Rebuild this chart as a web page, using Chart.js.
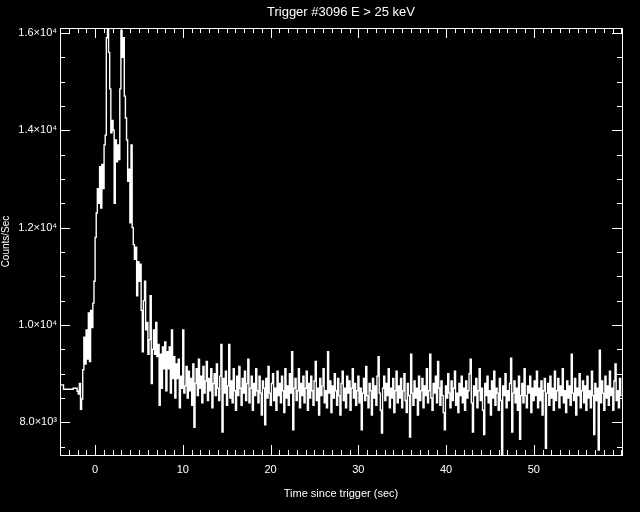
<!DOCTYPE html>
<html>
<head>
<meta charset="utf-8">
<title>Trigger #3096</title>
<script src="https://cdn.jsdelivr.net/npm/chart.js@4"></script>
<style>
  html, body { margin: 0; padding: 0; background: #000; }
  canvas { display: block; background: #000; }
</style>
</head>
<body>
<canvas id="lc" width="640" height="512"></canvas>
<script>
const TITLE = "Trigger #3096 E > 25 keV";
const X_LABEL = "Time since trigger (sec)";
const Y_LABEL = "Counts/Sec";

// coarse pre-trigger bins
const preTimes = [-4.0, -3.6, -2.5];
const preCounts = [8770, 8680, 8700];

// fine bins from here on
const binStart = -2.048;
const binWidth = 0.128;

// burst, -2.0 s to ~10 s
const burstCounts = [
  8640, 8580, 8800, 8270, 8480, 9080, 9750, 9200, 9900, 9300,
  10250, 9250, 10300, 9950, 10450, 10900, 11800, 12300, 12800, 12500,
  13250, 12400, 13300, 12800, 13700, 13900, 15900, 16100, 15600, 14850,
  13950, 14200, 14000, 12500, 13800, 13350, 13700, 13400, 14850, 16050,
  15500, 15900, 14700, 14250, 13800, 12950, 13200, 12100, 13700, 12000,
  11650, 11350, 11600, 10600, 11300, 10900, 11250, 10300, 9450, 10500,
  10900, 9900, 10050, 9400, 9700, 10600, 8800, 9500, 9900, 9400,
  10050, 9350, 9600, 8350, 9400, 8700, 9550, 9100, 9650, 8650,
  9450, 9100, 9550, 8600, 9900, 8900, 9350, 8500, 9200, 8900,
  9300, 8300, 8950, 8700, 9900, 8600
];

// background tail, ~10 s to 60 s
const tailCounts = [
  8750, 9150, 8500, 9050, 8650, 8900, 8350, 9200, 7900, 8800,
  9100, 8550, 9300, 8700, 8950, 8400, 9150, 8600, 8850, 9250,
  8450, 8900, 8650, 9100, 8300, 8800, 9000, 8550, 9200, 8700,
  8450, 8950, 9600, 7800, 8900, 8600, 9050, 8350, 8750, 9600,
  8500, 8850, 8400, 9100, 8650, 8250, 8950, 8550, 9150, 8700,
  8350, 8900, 8600, 9050, 8450, 8800, 9300, 8400, 8700, 8950,
  8250, 8800, 8550, 9100, 8650, 8400, 8950, 8600, 8150, 8850,
  8700, 7950, 8900, 8500, 9150, 8600, 8350, 8800, 9000, 8450,
  8700, 8250, 9050, 8550, 8800, 8400, 8950, 8650, 8200, 9100,
  8500, 8750, 8350, 9000, 8600, 9450, 7850, 8700, 8900, 8450,
  8650, 9100, 8300, 8800, 8550, 8950, 8400, 8700, 9050, 8250,
  8800, 8500, 8950, 8650, 8350, 8850, 9250, 8450, 8700, 8150,
  8900, 8550, 8750, 9100, 8400, 8650, 8300, 9450, 8600, 8850,
  8200, 8750, 8500, 9000, 8650, 8350, 8900, 8550, 8150, 8800,
  9050, 8450, 8700, 8300, 8950, 8600, 8850, 8250, 8700, 9100,
  8500, 8800, 8350, 8650, 8950, 8400, 8700, 7850, 8600, 8900,
  8450, 9150, 8550, 8300, 8800, 8650, 8150, 8900, 8500, 8750,
  8350, 8950, 9350, 8600, 8250, 7780, 8700, 8950, 8450, 8800,
  8550, 9100, 8300, 8700, 8500, 8900, 8200, 8650, 9050, 8400,
  8750, 8500, 8900, 8300, 8650, 9000, 8450, 8200, 8800, 8550,
  7700, 9400, 8600, 8350, 8850, 8500, 8700, 8150, 8950, 8450,
  8650, 8900, 8300, 8750, 8550, 9100, 8400, 8650, 9400, 8500,
  8250, 8800, 8600, 8950, 8400, 9250, 8700, 8350, 8850, 8550,
  8200, 7850, 8750, 8500, 9000, 8600, 8300, 8850, 8450, 8700,
  9050, 8350, 8600, 8200, 8800, 8550, 8950, 8400, 8700, 8250,
  8850, 8500, 8650, 9000, 9300, 8400, 7800, 8750, 8550, 8900,
  8300, 8650, 9100, 8450, 8700, 8250, 7750, 8800, 8550, 8950,
  8400, 8650, 8150, 8850, 8500, 9050, 8350, 8700, 8600, 8250,
  8900, 8450, 7330, 8750, 8550, 9000, 8300, 8650, 8450, 8800,
  9320, 7800, 8600, 8850, 8400, 8700, 8250, 8950, 7650, 8550,
  8800, 8400, 9100, 8550, 8300, 8750, 8600, 8950, 8200, 8700,
  8450, 8850, 8550, 9050, 8300, 8700, 8450, 8850, 8150, 8650,
  8900, 7470, 8600, 8800, 8350, 8950, 8500, 8700, 8250, 9050,
  8450, 8650, 8900, 8300, 8750, 8550, 9100, 8400, 8650, 8200,
  8850, 8500, 8750, 8350, 9400, 8600, 8450, 8900, 8150, 8700,
  8550, 9000, 8300, 8650, 8850, 8400, 8750, 8250, 8950, 8500,
  8650, 8300, 9050, 8550, 7750, 8800, 8450, 8700, 7430, 9480,
  8400, 8850, 8600, 8250, 8950, 8500, 8750, 8350, 9050, 8550,
  8700, 8250, 8850, 9200, 8450, 8650, 8300, 8900, 8550
];

const xRange = [-4, 60.06];
const yRange = [7330, 16100];
const xMajorTicks = [0, 10, 20, 30, 40, 50];
const xMinorStep = 1;
const yMajorTicks = [8000, 10000, 12000, 14000, 16000];
const yMinorStep = 500;

const FONT = "'Liberation Sans', Arial, sans-serif";
Chart.defaults.font.family = FONT;
Chart.defaults.color = "#fff";

// step points: each value holds from its time to the next one
const fineCounts = burstCounts.concat(tailCounts);
const points = preTimes.map((t, i) => ({ x: t, y: preCounts[i] }));
fineCounts.forEach((c, i) => points.push({ x: +(binStart + i * binWidth).toFixed(3), y: c }));
points.push({ x: binStart + fineCounts.length * binWidth, y: fineCounts[fineCounts.length - 1] });

function yTickLabel(v) {
  if (v >= 10000) return (v / 10000).toFixed(1) + "×10⁴";
  return (v / 1000).toFixed(1) + "×10³";
}

// IDL style box with inward ticks on all four sides
const idlFrame = {
  id: "idlFrame",
  afterDraw(chart) {
    const { ctx, chartArea: a } = chart;
    const x = chart.scales.x, y = chart.scales.y;
    ctx.save();
    ctx.strokeStyle = "#fff";
    ctx.lineWidth = 1;
    ctx.strokeRect(a.left + 0.5, a.top + 0.5, a.right - a.left, a.bottom - a.top);
    ctx.beginPath();
    for (let v = Math.ceil(xRange[0]); v <= xRange[1]; v += xMinorStep) {
      const len = xMajorTicks.includes(v) ? 10 : 5;
      const px = Math.round(x.getPixelForValue(v)) + 0.5;
      ctx.moveTo(px, a.bottom); ctx.lineTo(px, a.bottom - len);
      ctx.moveTo(px, a.top); ctx.lineTo(px, a.top + len);
    }
    for (let v = Math.ceil(yRange[0] / yMinorStep) * yMinorStep; v <= yRange[1]; v += yMinorStep) {
      const len = yMajorTicks.includes(v) ? 10 : 5;
      const py = Math.round(y.getPixelForValue(v)) + 0.5;
      ctx.moveTo(a.left, py); ctx.lineTo(a.left + len, py);
      ctx.moveTo(a.right, py); ctx.lineTo(a.right - len, py);
    }
    ctx.stroke();
    ctx.restore();
  }
};

new Chart(document.getElementById("lc"), {
  type: "line",
  data: {
    datasets: [{
      data: points,
      borderColor: "#fff",
      borderWidth: 1.4,
      pointRadius: 0,
      stepped: true,
      fill: false
    }]
  },
  options: {
    responsive: false,
    animation: false,
    layout: { padding: { left: 0, right: 18, top: 0, bottom: 0 } },
    plugins: {
      legend: { display: false },
      tooltip: { enabled: false },
      title: { display: false }
    },
    scales: {
      x: {
        type: "linear", position: "bottom",
        min: xRange[0], max: xRange[1],
        grid: { display: false, drawTicks: false },
        border: { display: false },
        ticks: { color: "#fff", font: { size: 11 }, padding: 8, maxRotation: 0, autoSkip: false },
        afterBuildTicks: s => { s.ticks = xMajorTicks.map(v => ({ value: v })); },
        title: { display: true, text: X_LABEL, color: "#fff", font: { size: 11 }, padding: { top: 0, bottom: 11 } },
        afterFit: s => { s.height = 57; }
      },
      xTop: {
        axis: "x", type: "linear", position: "top",
        min: xRange[0], max: xRange[1],
        grid: { display: false, drawTicks: false },
        border: { display: false },
        ticks: { display: false },
        title: { display: true, text: TITLE, color: "#fff", font: { size: 13 }, padding: { top: 5, bottom: 0 } },
        afterFit: s => { s.height = 28; }
      },
      y: {
        type: "linear", position: "left",
        min: yRange[0], max: yRange[1],
        grid: { display: false, drawTicks: false },
        border: { display: false },
        ticks: { color: "#fff", font: { size: 11 }, padding: 3, callback: v => yTickLabel(v) },
        afterBuildTicks: s => { s.ticks = yMajorTicks.map(v => ({ value: v })); },
        title: { display: true, text: Y_LABEL, color: "#fff", font: { size: 10 }, padding: 0 },
        afterFit: s => { s.width = 60; }
      }
    }
  },
  plugins: [idlFrame]
});
</script>
</body>
</html>
